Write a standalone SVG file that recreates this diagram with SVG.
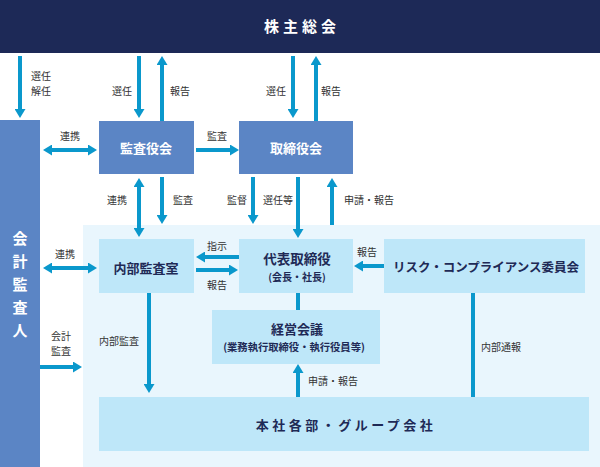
<svg xmlns="http://www.w3.org/2000/svg" width="600" height="467" viewBox="0 0 600 467">
<defs>
<marker id="ah" viewBox="0 0 9 11" markerWidth="9" markerHeight="11" refX="0" refY="5.5" markerUnits="userSpaceOnUse" orient="auto-start-reverse">
<path d="M0,0 L9,5.5 L0,11 z" fill="#0a98cc"/>
</marker>
</defs>
<style>
text{font-family:"Noto Sans CJK JP","Noto Sans",sans-serif}
.lbl{font-size:10px;fill:#333}
.mid{fill:#5b85c5}
.lt{fill:#bee7f9}
.wt{fill:#fff;font-weight:bold;text-anchor:middle}
.nv{fill:#1f2a56;font-weight:bold;text-anchor:middle}
.ar{stroke:#0a98cc;stroke-width:4;fill:none}
.e{marker-end:url(#ah)}
.b{marker-start:url(#ah);marker-end:url(#ah)}
</style>
<rect x="83" y="225" width="517" height="242" fill="#e9f6fd"/>
<g id="shareholders">
<rect x="0" y="0" width="600" height="53" fill="#1d2957"/>
<text class="wt" x="302" y="32" font-size="15" letter-spacing="4">株主総会</text>
</g>
<g id="auditor">
<rect class="mid" x="0" y="120" width="40" height="347"/>
<text class="wt" x="20" y="244" font-size="15">会</text>
<text class="wt" x="20" y="267" font-size="15">計</text>
<text class="wt" x="20" y="290" font-size="15">監</text>
<text class="wt" x="20" y="313" font-size="15">査</text>
<text class="wt" x="20" y="336" font-size="15">人</text>
</g>
<g id="audit-board">
<rect class="mid" x="99" y="121" width="95" height="53"/>
<text class="wt" x="146" y="153" font-size="13">監査役会</text>
</g>
<g id="board">
<rect class="mid" x="239" y="121" width="114" height="53"/>
<text class="wt" x="296" y="153" font-size="13">取締役会</text>
</g>
<g id="internal-audit">
<rect class="lt" x="99" y="239" width="95" height="54"/>
<text class="nv" x="146" y="273" font-size="13">内部監査室</text>
</g>
<g id="ceo">
<rect class="lt" x="239" y="239" width="114" height="54"/>
<text class="nv" x="297" y="264" font-size="13.5">代表取締役</text>
<text class="nv" x="297" y="281" font-size="10">(会長・社長)</text>
</g>
<g id="risk">
<rect class="lt" x="384" y="239" width="201" height="54"/>
<text class="nv" x="486" y="272" font-size="12.5">リスク・コンプライアンス委員会</text>
</g>
<g id="mgmt">
<rect class="lt" x="212" y="310" width="168" height="54"/>
<text class="nv" x="297" y="334" font-size="13">経営会議</text>
<text class="nv" x="294" y="351" font-size="10.3">(業務執行取締役・執行役員等)</text>
</g>
<g id="group">
<rect class="lt" x="99" y="397" width="490" height="54"/>
<text class="nv" x="346" y="430" font-size="13" letter-spacing="3.5">本社各部・グループ会社</text>
</g>
<g id="connectors">
<line class="ar e" x1="20" y1="56" x2="20" y2="109"/>
<line class="ar e" x1="139" y1="56" x2="139" y2="109"/>
<line class="ar e" x1="162" y1="121" x2="162" y2="65"/>
<line class="ar e" x1="293" y1="56" x2="293" y2="109"/>
<line class="ar e" x1="316" y1="121" x2="316" y2="65"/>
<line class="ar b" x1="52" y1="150" x2="88" y2="150"/>
<line class="ar e" x1="196" y1="150" x2="230" y2="150"/>
<line class="ar b" x1="139" y1="187" x2="139" y2="228"/>
<line class="ar e" x1="162" y1="177" x2="162" y2="215"/>
<line class="ar e" x1="253" y1="177" x2="253" y2="215"/>
<line class="ar e" x1="298" y1="177" x2="298" y2="229"/>
<line class="ar e" x1="332" y1="225" x2="332" y2="187"/>
<line class="ar e" x1="239" y1="257" x2="205" y2="257"/>
<line class="ar e" x1="196" y1="270" x2="229" y2="270"/>
<line class="ar e" x1="384" y1="266" x2="363" y2="266"/>
<line class="ar b" x1="52" y1="268" x2="88" y2="268"/>
<line class="ar e" x1="40" y1="367" x2="73" y2="367"/>
<line class="ar e" x1="149" y1="293" x2="149" y2="384"/>
<line class="ar" x1="298" y1="293" x2="298" y2="310"/>
<line class="ar e" x1="298" y1="397" x2="298" y2="373"/>
<line class="ar" x1="473" y1="293" x2="473" y2="397"/>
<text class="lbl" x="31" y="80">選任</text>
<text class="lbl" x="31" y="95">解任</text>
<text class="lbl" x="112" y="95">選任</text>
<text class="lbl" x="170" y="95">報告</text>
<text class="lbl" x="266" y="95">選任</text>
<text class="lbl" x="321" y="95">報告</text>
<text class="lbl" x="60" y="140">連携</text>
<text class="lbl" x="207" y="140">監査</text>
<text class="lbl" x="107" y="204">連携</text>
<text class="lbl" x="173" y="204">監査</text>
<text class="lbl" x="227" y="204">監督</text>
<text class="lbl" x="263" y="204">選任等</text>
<text class="lbl" x="344" y="204">申請・報告</text>
<text class="lbl" x="207" y="250">指示</text>
<text class="lbl" x="207" y="289">報告</text>
<text class="lbl" x="357" y="256">報告</text>
<text class="lbl" x="55" y="258">連携</text>
<text class="lbl" x="51" y="340">会計</text>
<text class="lbl" x="51" y="355">監査</text>
<text class="lbl" x="99" y="345">内部監査</text>
<text class="lbl" x="308" y="385">申請・報告</text>
<text class="lbl" x="481" y="351">内部通報</text>
</g>
</svg>
